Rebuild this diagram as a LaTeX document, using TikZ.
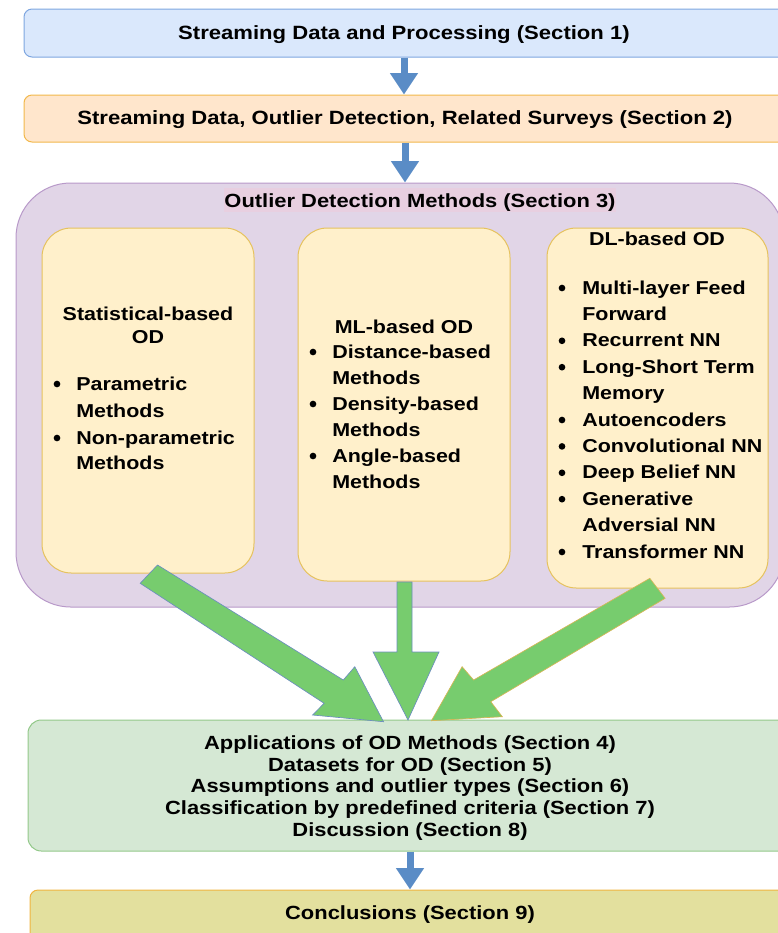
\documentclass[tikz,border=0pt]{standalone}
\usepackage{fontspec}
\setmainfont{Liberation Sans}[FakeStretch=1.15]
\usetikzlibrary{fit,arrows.meta}
\definecolor{bluefill}{HTML}{DAE8FC}
\definecolor{bluedraw}{HTML}{7EA6E0}
\definecolor{orfill}{HTML}{FFE6CC}
\definecolor{ordraw}{HTML}{F2B84B}
\definecolor{purfill}{HTML}{E1D5E7}
\definecolor{purdraw}{HTML}{B899C9}
\definecolor{yelfill}{HTML}{FFF0CB}
\definecolor{yeldraw}{HTML}{E6C25E}
\definecolor{grnfill}{HTML}{D5E8D4}
\definecolor{grndraw}{HTML}{93C98A}
\definecolor{olvfill}{HTML}{E3E09E}
\definecolor{olvdraw}{HTML}{F0B440}
\definecolor{pinkhl}{HTML}{E8CFE0}
\definecolor{arrblue}{HTML}{5A8CC6}
\definecolor{arrgreen}{HTML}{77CC6E}
\definecolor{arredgeb}{HTML}{6C8EBF}
\definecolor{arredgeo}{HTML}{D6B656}
\begin{document}
\begin{tikzpicture}[x=0.75pt,y=-0.75pt,
  frame/.style={draw, line width=0.75pt, inner sep=0pt},
  bigtxt/.style={font=\fontsize{14.4pt}{17pt}\selectfont\bfseries, inner sep=0pt, anchor=base},
  midtxt/.style={font=\fontsize{14.3pt}{17pt}\selectfont\bfseries, inner sep=0pt, anchor=base},
  itm/.style={font=\fontsize{14pt}{16pt}\selectfont\bfseries, inner sep=0pt, anchor=base west},
  ttl/.style={font=\fontsize{14pt}{16pt}\selectfont\bfseries, inner sep=0pt, anchor=base},
  dot/.style={fill=black, circle, inner sep=0pt, minimum size=5pt},
  flow/.style={draw=arrblue, line width=5.25pt, -{Triangle[length=16pt 0 0, width=20pt 0 0]}},
  fat/.style={fill=arrgreen, line width=0.5pt, line join=miter},
]
\useasboundingbox (0,0) rectangle (778,933);
\clip (0,0) rectangle (778,933);

% top boxes
\node[frame, fill=bluefill, draw=bluedraw, rounded corners=6pt, fit={(24,9) (800,57)}] (s1) {};
\node[bigtxt] (t1) at (404,39.6) {Streaming Data and Processing (Section 1)};
\node[frame, fill=orfill, draw=ordraw, rounded corners=6pt, fit={(24,95) (800,142)}] (s2) {};
\node[bigtxt] (t2) at (405,124.6) {Streaming Data, Outlier Detection, Related Surveys (Section 2)};
\draw[flow] (t1 |- s1.south) -- (t1 |- s2.north);

% purple container
\node[frame, fill=purfill, draw=purdraw, rounded corners=41pt, fit={(16,183) (784,607)}] (od) {};
\draw[flow] (t2 |- s2.south) -- (t2 |- od.north);
\node[midtxt, fill=pinkhl, text height=14.6pt, text depth=3.6pt] (odt) at (420,207.5) {Outlier Detection Methods (Section 3)};

% inner boxes
\node[frame, fill=yelfill, draw=yeldraw, rounded corners=22pt, fit={(42,228) (254,573)}] (b1) {};
\node[frame, fill=yelfill, draw=yeldraw, rounded corners=22pt, fit={(298,228) (510,581)}] (b2) {};
\node[frame, fill=yelfill, draw=yeldraw, rounded corners=22pt, fit={(547,228) (768,588)}] (b3) {};

% box 1
\node[ttl] (b1t1) at (148,320) {Statistical-based};
\node[ttl] (b1t2) at (148,343) {OD};
\node[dot] (b1d1) at (57,384) {};
\node[itm] (b1i1) at (76,390) {Parametric};
\node[itm] (b1i2) at (76,417) {Methods};
\node[dot] (b1d2) at (57,438) {};
\node[itm] (b1i3) at (76,444) {Non-parametric};
\node[itm] (b1i4) at (76,469) {Methods};

% box 2
\node[ttl] (b2t) at (404,333) {ML-based OD};
\node[dot] (b2d1) at (313,352) {};
\node[itm] (b2i1) at (332,358) {Distance-based};
\node[itm] (b2i2) at (332,384) {Methods};
\node[dot] (b2d2) at (313,404) {};
\node[itm] (b2i3) at (332,410) {Density-based};
\node[itm] (b2i4) at (332,436) {Methods};
\node[dot] (b2d3) at (313,456) {};
\node[itm] (b2i5) at (332,462) {Angle-based};
\node[itm] (b2i6) at (332,488) {Methods};

% box 3
\node[ttl] (b3t) at (657,245) {DL-based OD};
\node[dot] (b3d1) at (562,288) {};
\node[itm] (b3i1) at (582,294) {Multi-layer Feed};
\node[itm] (b3i2) at (582,320.4) {Forward};
\node[dot] (b3d2) at (562,340.8) {};
\node[itm] (b3i3) at (582,346.8) {Recurrent NN};
\node[dot] (b3d3) at (562,367.2) {};
\node[itm] (b3i4) at (582,373.2) {Long-Short Term};
\node[itm] (b3i5) at (582,399.6) {Memory};
\node[dot] (b3d4) at (562,420) {};
\node[itm] (b3i6) at (582,426) {Autoencoders};
\node[dot] (b3d5) at (562,446.4) {};
\node[itm] (b3i7) at (582,452.4) {Convolutional NN};
\node[dot] (b3d6) at (562,472.8) {};
\node[itm] (b3i8) at (582,478.8) {Deep Belief NN};
\node[dot] (b3d7) at (562,499.2) {};
\node[itm] (b3i9) at (582,505.2) {Generative};
\node[itm] (b3i10) at (582,531.6) {Adversial NN};
\node[dot] (b3d8) at (562,552) {};
\node[itm] (b3i11) at (582,558) {Transformer NN};

% green box
\node[frame, fill=grnfill, draw=grndraw, rounded corners=10pt, fit={(28,720) (820,851)}] (gb) {};
\node[midtxt] (g1) at (410,749.5) {Applications of OD Methods (Section 4)};
\node[midtxt] (g2) at (410,771.2) {Datasets for OD (Section 5)};
\node[midtxt] (g3) at (410,792.9) {Assumptions and outlier types (Section 6)};
\node[midtxt] (g4) at (410,814.6) {Classification by predefined criteria (Section 7)};
\node[midtxt] (g5) at (410,836.3) {Discussion (Section 8)};

% big green arrows
\filldraw[fat, draw=arredgeb] (140.2,583.3) -- (157.5,565) -- (343.3,680) -- (354.8,666.7) -- (383.5,721.7) -- (312.6,715) -- (324.1,703.3) -- cycle;
\filldraw[fat, draw=arredgeb] (397,582) -- (412,582) -- (412,652) -- (439,652) -- (408,720) -- (373,652) -- (397,652) -- cycle;
\filldraw[fat, draw=arredgeo] (649.8,578.3) -- (473.6,680) -- (462.1,666.7) -- (431.4,720.7) -- (502.3,716.7) -- (490.8,701.7) -- (665.1,598.3) -- cycle;

% conclusions
\node[frame, fill=olvfill, draw=olvdraw, rounded corners=6pt, fit={(30,890) (820,960)}] (cn) {};
\node[midtxt] (ct) at (410,919.5) {Conclusions (Section 9)};
\draw[flow] (ct |- gb.south) -- (ct |- cn.north);
\end{tikzpicture}
\end{document}
